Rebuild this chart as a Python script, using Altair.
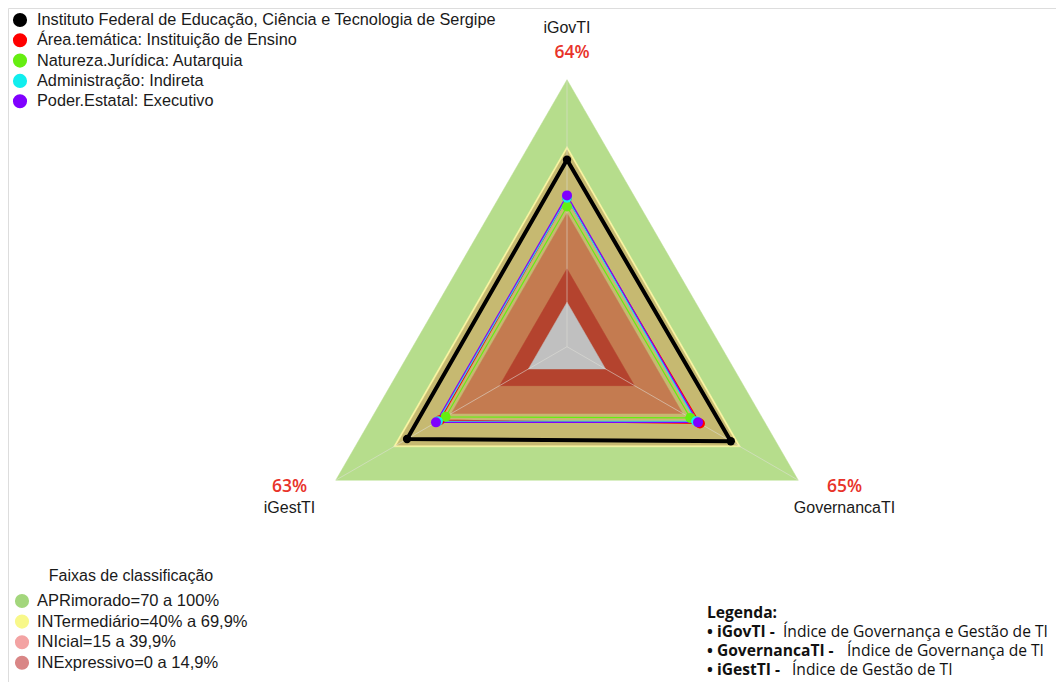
import altair as alt
import pandas as pd

# ---------------- data ----------------
axis_names = ["iGovTI", "GovernancaTI", "iGestTI"]
axis_min, axis_max = -20, 100

series_names = [
    "Instituto Federal de Educação, Ciência e Tecnologia de Sergipe",
    "Área.temática: Instituição de Ensino",
    "Natureza.Jurídica: Autarquia",
    "Administração: Indireta",
    "Poder.Estatal: Executivo",
]
series_colors = ["#000000", "#ff0000", "#66ee11", "#11eeee", "#8000ff"]
ifs_values = [64, 65, 63]
area_values = [47, 49, 46]
natureza_values = [43, 44, 43]
admin_values = [47, 47, 47]
poder_values = [48, 48, 48]
series_values = [ifs_values, area_values, natureza_values, admin_values, poder_values]

band_levels = [100, 70, 68.5, 40, 15, 0]
band_colors = ["#b6dd8c", "#fcf6a4", "#c6b971", "#c47b50", "#b4432e", "#c0c0c0"]

faixa_title = "Faixas de classificação"
faixa_labels = ["APRimorado=70 a 100%", "INTermediário=40% a 69,9%",
                "INIcial=15 a 39,9%", "INExpressivo=0 a 14,9%"]
faixa_colors = ["#a3d67c", "#f8f88a", "#f3a3a3", "#d98686"]

legenda_title = "Legenda:"
legenda_terms = ["• iGovTI -", "• GovernancaTI -", "• iGestTI -"]
legenda_desc = ["Índice de Governança e Gestão de TI",
                "Índice de Governança de TI", "Índice de Gestão de TI"]

# ---------------- layout ----------------
W, H = 1048, 674
CX, CY, R = 559, 338.7, 267
xs = alt.Scale(domain=[-1, 1], range=[CX - R, CX + R], nice=False, zero=False)
ys = alt.Scale(domain=[-1, 1], range=[CY + R, CY - R], nice=False, zero=False)
SPAN = axis_max - axis_min

def polar(chart):
    return chart.transform_calculate(
        r=f"(datum.value - ({axis_min})) / {SPAN}",
        ang="datum.k * 2 * PI / 3",
    ).transform_calculate(
        px="datum.r * sin(datum.ang)",
        py="datum.r * cos(datum.ang)",
    )

X = alt.X("px:Q", scale=xs, axis=None)
Y = alt.Y("py:Q", scale=ys, axis=None)

layers = []

# bands
for lvl, col in zip(band_levels, band_colors):
    df = pd.DataFrame({"k": [0, 1, 2, 3], "value": [lvl] * 4})
    layers.append(
        polar(alt.Chart(df).mark_line(fill=col, stroke=col, strokeWidth=0.5))
        .encode(x=X, y=Y, order="k:Q")
    )

# spokes
spk = pd.DataFrame({"k": [0, 1, 2], "value": [axis_max] * 3})
layers.append(
    polar(alt.Chart(spk).mark_rule(color="#e0e0d8", opacity=0.55, strokeWidth=1))
    .transform_calculate(c0="0")
    .encode(x=alt.X("c0:Q", scale=xs, axis=None), y=alt.Y("c0:Q", scale=ys, axis=None),
            x2="px:Q", y2="py:Q")
)

def series_df(i):
    vals = series_values[i]
    return pd.DataFrame({"k": [0, 1, 2, 3], "value": vals + [vals[0]]})

# series lines (colored first, black on top)
for i in [1, 2, 3, 4, 0]:
    layers.append(
        polar(alt.Chart(series_df(i)).mark_line(
            color=series_colors[i], strokeWidth=4 if i == 0 else 1.2))
        .encode(x=X, y=Y, order="k:Q")
    )
# series points
for i in [0, 1, 2, 3, 4]:
    df = series_df(i).iloc[:3]
    layers.append(
        polar(alt.Chart(df).mark_circle(
            color=series_colors[i], opacity=1, size=70 if i == 0 else 100))
        .encode(x=X, y=Y)
    )

# axis names and scores
lab = pd.DataFrame({"k": [0, 1, 2], "name": axis_names, "score": ifs_values,
                    "value": [axis_max + 24] * 3})
layers.append(
    polar(alt.Chart(lab).mark_text(font="Liberation Sans", fontSize=16, color="#1a1a1a", dy=1.5))
    .encode(x=X, y=Y, text="name:N")
)
pct_text = alt.Text("pct:N")
layers.append(
    polar(alt.Chart(lab).mark_text(font="Open Sans", fontSize=17.5, fontWeight=600,
                                   color="#e8332a", dy=-20))
    .transform_filter("datum.k > 0")
    .transform_calculate(pct="datum.score + '%'")
    .encode(x=X, y=Y, text=pct_text)
)
layers.append(
    polar(alt.Chart(lab).mark_text(font="Open Sans", fontSize=17.5, fontWeight=600,
                                   color="#e8332a", dy=27, dx=5))
    .transform_filter("datum.k == 0")
    .transform_calculate(pct="datum.score + '%'")
    .encode(x=X, y=Y, text=pct_text)
)

# top legend
leg = pd.DataFrame({"name": series_names, "col": series_colors, "i": range(5)})
legy = alt.Y("ly:Q", scale=None)
layers.append(
    alt.Chart(leg).mark_circle(size=200, opacity=1)
    .transform_calculate(ly="12 + datum.i * 20.3")
    .encode(x=alt.value(12), y=legy,
            color=alt.Color("col:N", scale=None))
)
layers.append(
    alt.Chart(leg).mark_text(align="left", baseline="middle", font="Liberation Sans",
                             fontSize=16.3, color="#1a1a1a")
    .transform_calculate(ly="12 + datum.i * 20.3")
    .encode(x=alt.value(29), y=legy, text="name:N")
)

# bottom-left legend
fx = pd.DataFrame({"name": faixa_labels, "col": faixa_colors, "i": range(4)})
layers.append(
    alt.Chart(pd.DataFrame({"t": [faixa_title]})).mark_text(
        align="center", baseline="middle", font="Liberation Sans", fontSize=16, color="#1a1a1a")
    .encode(x=alt.value(123), y=alt.value(568), text="t:N")
)
layers.append(
    alt.Chart(fx).mark_circle(size=200, opacity=1)
    .transform_calculate(ly="593 + datum.i * 20.6")
    .encode(x=alt.value(14), y=legy, color=alt.Color("col:N", scale=None))
)
layers.append(
    alt.Chart(fx).mark_text(align="left", baseline="middle", font="Liberation Sans",
                            fontSize=16.5, color="#1a1a1a")
    .transform_calculate(ly="593 + datum.i * 20.6")
    .encode(x=alt.value(29), y=legy, text="name:N")
)

# bottom-right legend
LX = 699
FS = 15.6
layers.append(
    alt.Chart(pd.DataFrame({"t": [legenda_title]})).mark_text(
        align="left", baseline="middle", font="Open Sans", fontSize=FS, fontWeight="bold",
        color="#111111")
    .encode(x=alt.value(LX), y=alt.value(605), text="t:N")
)
desc_dx = [76, 140, 85]
for i in range(3):
    yv = 624 + i * 18.8
    layers.append(
        alt.Chart(pd.DataFrame({"t": [legenda_terms[i]]})).mark_text(
            align="left", baseline="middle", font="Open Sans", fontSize=FS, fontWeight="bold",
            color="#111111")
        .encode(x=alt.value(LX), y=alt.value(yv), text="t:N")
    )
    layers.append(
        alt.Chart(pd.DataFrame({"t": [legenda_desc[i]]})).mark_text(
            align="left", baseline="middle", font="Open Sans", fontSize=FS, color="#111111")
        .encode(x=alt.value(LX + desc_dx[i]), y=alt.value(yv), text="t:N")
    )

chart = alt.layer(*layers).properties(
    width=W, height=H, padding=0, autosize=alt.AutoSizeParams(type="none")
).configure_view(stroke="transparent", strokeWidth=0).configure(background="white")

chart.save("out.html", embed_options={"renderer": "svg", "actions": False})
